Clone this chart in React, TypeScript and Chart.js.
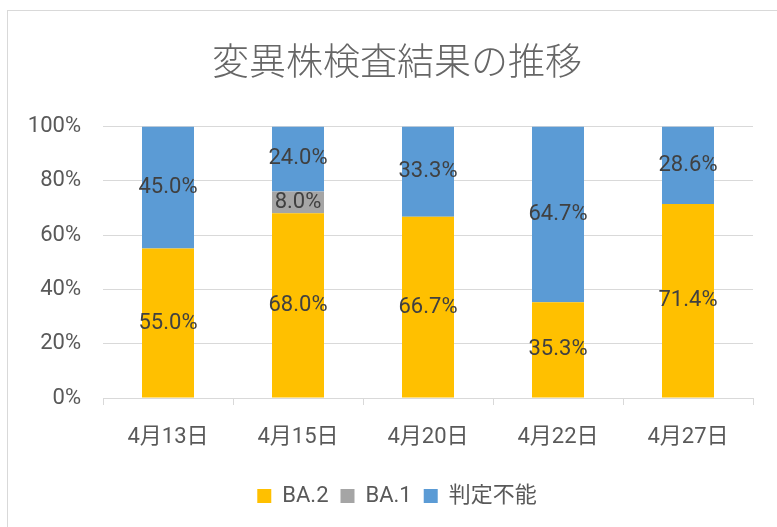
import React, { useEffect, useRef } from "react";
import { Chart, registerables } from "chart.js";

Chart.register(...registerables);

const categories = ["4月13日", "4月15日", "4月20日", "4月22日", "4月27日"];
const ba2Values = [55.0, 68.0, 66.7, 35.3, 71.4];
const ba1Values = [0, 8.0, 0, 0, 0];
const undeterminedValues = [45.0, 24.0, 33.3, 64.7, 28.6];
const seriesNames = ["BA.2", "BA.1", "判定不能"];
const seriesColors = ["#FFC000", "#A5A5A5", "#5B9BD5"];
const yTicks = [0, 20, 40, 60, 80, 100];
const titleText = "変異株検査結果の推移";

const FONT = 'Roboto, "Noto Sans CJK JP", sans-serif';

const framePlugin = {
  id: "frame",
  beforeDraw(chart: any) {
    const { ctx, width, height } = chart;
    ctx.save();
    ctx.fillStyle = "#ffffff";
    ctx.fillRect(0, 0, width, height);
    ctx.strokeStyle = "#d9d9d9";
    ctx.lineWidth = 1;
    ctx.strokeRect(7.5, 10.5, width + 50, height + 50);
    ctx.restore();
  },
};

const labelPlugin = {
  id: "segLabels",
  afterDatasetsDraw(chart: any) {
    const { ctx } = chart;
    ctx.save();
    ctx.font = `22px ${FONT}`;
    ctx.fillStyle = "#404040";
    ctx.textAlign = "center";
    ctx.textBaseline = "middle";
    chart.data.datasets.forEach((ds: any, di: number) => {
      const meta = chart.getDatasetMeta(di);
      meta.data.forEach((el: any, i: number) => {
        const v = ds.data[i];
        if (!v) return;
        const p = el.getProps(["x", "y", "base"], true);
        ctx.fillText(`${v.toFixed(1)}%`, p.x, (p.y + p.base) / 2);
      });
    });
    ctx.restore();
  },
};

export default function App() {
  const ref = useRef<HTMLCanvasElement | null>(null);
  useEffect(() => {
    if (!ref.current) return;
    const values = [ba2Values, ba1Values, undeterminedValues];
    const chart = new Chart(ref.current, {
      type: "bar",
      data: {
        labels: categories,
        datasets: values.map((d, i) => ({
          label: seriesNames[i],
          data: d,
          backgroundColor: seriesColors[i],
          borderWidth: 0,
          barPercentage: 0.4,
          categoryPercentage: 1.0,
        })),
      },
      options: {
        responsive: false,
        animation: false,
        layout: { padding: { left: 17, right: 0, top: 0, bottom: 10 } },
        plugins: {
          title: {
            display: true,
            text: titleText,
            color: "#666666",
            font: { family: FONT, size: 37, weight: "300" as any },
            padding: { top: 44, bottom: 38 },
          },
          legend: {
            position: "bottom",
            labels: {
              color: "#595959",
              font: { family: FONT, size: 22 },
              boxWidth: 14,
              boxHeight: 14,
              padding: 12,
            },
          },
          tooltip: { enabled: false },
        },
        scales: {
          x: {
            stacked: true,
            grid: {
              display: true,
              drawOnChartArea: false,
              drawTicks: true,
              tickLength: 7,
              color: "#d9d9d9",
              offset: true,
            },
            border: { display: true, color: "#d9d9d9", width: 1 },
            ticks: { color: "#595959", font: { family: FONT, size: 22 }, padding: 19 },
            afterFit(scale: any) {
              scale.height = 75;
            },
          },
          y: {
            stacked: true,
            min: 0,
            max: 100,
            afterBuildTicks(scale: any) {
              scale.ticks = yTicks.map((v) => ({ value: v }));
            },
            grid: { color: "#d9d9d9", drawTicks: false, lineWidth: 1 },
            border: { display: false },
            ticks: {
              color: "#595959",
              font: { family: FONT, size: 22 },
              padding: 22,
              callback: (v: any) => `${v}%`,
            },
            afterFit(scale: any) {
              scale.width = 86;
            },
          },
          yRight: {
            position: "right",
            display: true,
            grid: { display: false, drawTicks: false },
            border: { display: false },
            ticks: { display: false },
            afterFit(scale: any) {
              scale.width = 24;
            },
          },
        },
      },
      plugins: [framePlugin, labelPlugin],
    });
    return () => chart.destroy();
  }, []);
  return (
    <canvas
      ref={ref}
      width={777}
      height={527}
      style={{ position: "fixed", left: 0, top: 0, display: "block" }}
    />
  );
}
